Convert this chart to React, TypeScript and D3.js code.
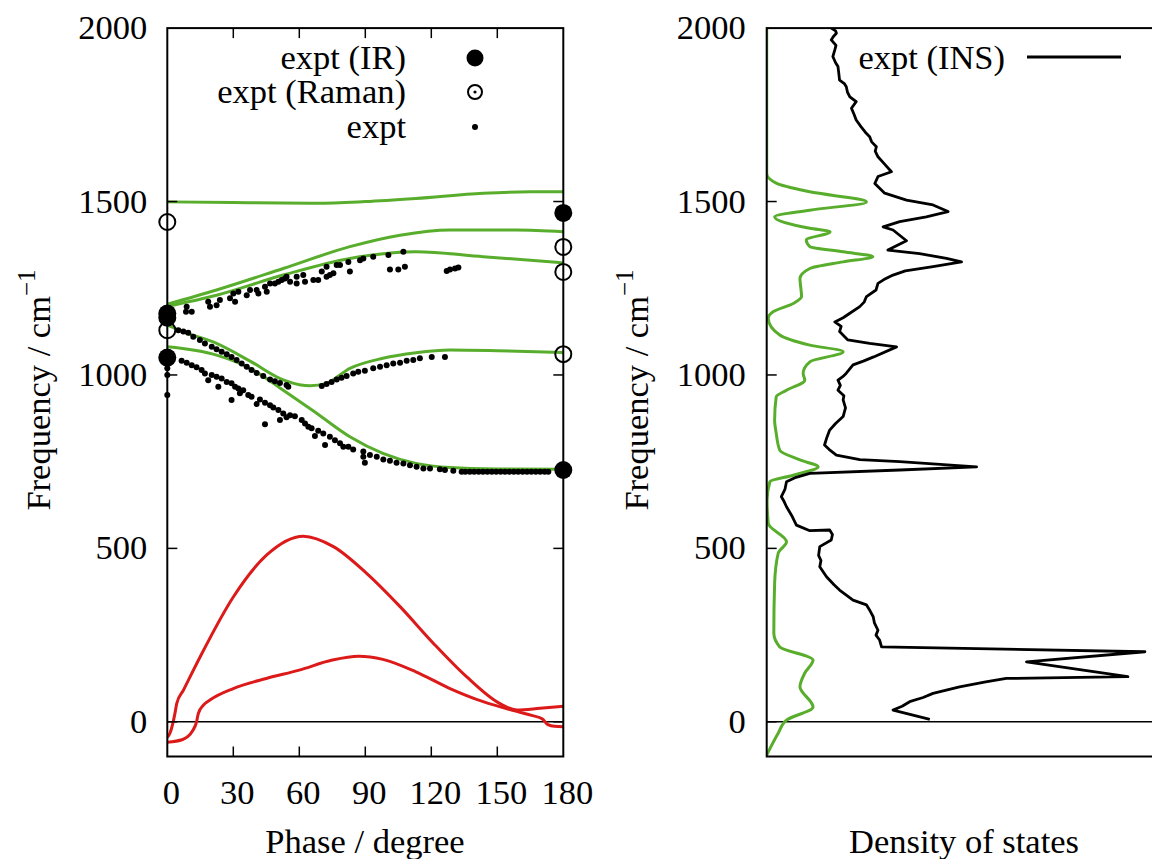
import React from "react";
import * as d3 from "d3";

// ---------- data ----------
const phaseTicks = [0, 30, 60, 90, 120, 150, 180];
const freqTicks = [0, 500, 1000, 1500, 2000];

// calculated dispersion bands [phase (deg), frequency (cm^-1)]
const bandRedLow: [number, number][] = [
  [0, -59], [7, -51], [11.5, -26], [13.3, 0], [14.1, 24], [16.4, 48], [19.4, 63], [30, 96], [45, 125],
  [60, 149], [75, 178], [87, 189], [98, 180], [113, 144], [128.5, 96], [143.6, 58], [158.8, 30],
  [166, 18], [170.5, 8], [173, -8], [176, -13], [180, -14],
];
const bandRedHigh: [number, number][] = [
  [0, -45], [1.2, -33], [3.5, 25], [4.3, 53], [7.3, 91], [14.9, 187], [30, 360], [45.2, 481],
  [61.8, 535], [75.5, 505], [90.6, 428], [105.8, 332], [121, 226], [136, 130], [151, 53],
  [158.8, 34], [169.4, 39], [180, 45],
];
const bandGreen1: [number, number][] = [
  [0, 1499], [30, 1497], [68, 1495], [90, 1500], [113, 1509], [143.6, 1524], [165, 1528], [180, 1528],
];
const bandGreen2: [number, number][] = [
  [0, 1204], [22.4, 1245], [52.7, 1307], [83, 1370], [105.8, 1403], [128.5, 1418], [158.8, 1418], [180, 1413],
];
const bandGreen3: [number, number][] = [
  [0, 1198], [22.4, 1230], [52.7, 1288], [83, 1336], [113, 1355], [143.6, 1341], [180, 1323],
];
const bandGreen4: [number, number][] = [
  [0, 1144], [7, 1125], [22.4, 1091], [37.6, 1040], [53, 985], [60, 972], [65, 969], [72, 975],
  [83, 1019], [98, 1048], [113, 1064], [128.5, 1072], [150, 1070], [180, 1065],
];
const bandGreen5: [number, number][] = [
  [0, 1081], [22.4, 1057], [37.6, 1019], [52.7, 956], [68, 889], [83, 822], [98, 774], [113, 745],
  [128.5, 733], [150, 729], [180, 728],
];

// experimental points
const exptIR: [number, number][] = [[0, 1177], [0, 1165], [0, 1050], [180, 1467], [180, 726]];
const exptRaman: [number, number][] = [[0, 1441], [0, 1129], [180, 1369], [180, 1297], [180, 1060]];
const exptDots: [number, number][] = [
  [0, 1019], [0, 1000], [0, 942],
  // upper branch
  [8.8, 1197], [11.1, 1182], [8.5, 1182], [18.6, 1211], [19.4, 1197], [22.4, 1201], [23.9, 1216],
  [28.5, 1221], [30, 1235], [30.8, 1211], [32.3, 1240], [36.1, 1230], [37.6, 1245], [40.6, 1245],
  [41.4, 1235], [44.4, 1254], [45.2, 1240], [46.7, 1264], [48.9, 1264], [50.5, 1269], [52, 1274],
  [53.5, 1278], [54.2, 1283], [55.8, 1269], [58.8, 1283], [58.8, 1264], [61.8, 1288], [62.6, 1269],
  [66.4, 1274], [68.6, 1274], [70.2, 1298], [72.4, 1312], [72.4, 1283], [73.9, 1288], [75.5, 1293],
  [77, 1317], [78.5, 1317], [82.3, 1326], [83, 1298], [87.6, 1331], [89.1, 1336], [93.6, 1341],
  [100.5, 1346], [107.3, 1355], [101.2, 1304], [105, 1304], [108, 1312], [127, 1300], [128.5, 1304],
  [130.8, 1307], [132.3, 1310],
  // middle branch
  [5, 1129], [7.3, 1125], [9.5, 1122], [11.8, 1110], [14.8, 1101], [17.1, 1091], [20.2, 1081],
  [22.4, 1074], [24.7, 1067], [27, 1060], [29.2, 1052], [31.5, 1043], [33.8, 1033], [36.1, 1024],
  [38.3, 1014], [40.6, 1006], [43.6, 997], [46.7, 987], [48.9, 982], [51.2, 977], [54.2, 971],
  [55, 966], [70.2, 968], [72.4, 974], [74.7, 980], [77, 987], [79.2, 992], [81.5, 997], [84.5, 1004],
  [86.8, 1009], [89.8, 1012], [93.6, 1019], [96.7, 1024], [99.7, 1028], [102.7, 1033], [105.8, 1035],
  [108.8, 1041], [111.8, 1043], [114.8, 1048], [120.2, 1052], [126.2, 1052],
  // lower branch
  [6.5, 1041], [8.8, 1035], [11.1, 1028], [13.3, 1022], [15.6, 1014], [17.1, 1004], [18.6, 985],
  [20.2, 1000], [22.4, 995], [23.2, 966], [24.7, 990], [27, 980], [29.2, 976], [29.2, 928], [30.8, 966],
  [32.3, 961], [33, 947], [34.5, 956], [36.8, 942], [38.3, 937], [40.6, 916], [42.1, 929], [44.4, 920],
  [44.4, 858], [46.7, 913], [48.2, 906], [50.5, 899], [51.2, 870], [52.7, 889], [54.2, 878], [55.8, 884],
  [58, 881], [61.1, 870], [62.6, 860], [64.1, 851], [65.6, 846], [67.1, 824], [68.6, 839], [70.9, 831],
  [71.7, 798], [73.9, 822], [76.2, 812], [78.5, 803], [80, 793], [82.3, 793], [84.5, 785], [89.1, 779],
  [89.1, 764], [89.8, 747], [92.1, 769], [95.2, 764], [98.2, 756], [101.2, 753], [104.2, 747],
  [107.3, 745], [110.3, 740], [113.3, 735], [116.4, 730], [119.4, 730], [123.9, 728], [126.2, 726],
  [130, 724], [133.8, 721], [135.5, 721], [137.5, 721], [139.5, 721], [141.5, 721], [143.5, 721],
  [145.5, 721], [147.5, 721], [149.5, 721], [151.5, 721], [153.5, 721], [155.5, 721], [157.5, 721],
  [159.5, 721], [161.5, 721], [163.5, 721], [165.5, 721], [167.5, 721], [169.5, 721], [171.5, 721],
  [173.2, 721],
];

// density of states [frequency, intensity (arb.)]
const dosCalc: [number, number][] = [
  [-96, 0], [-33, 2.9], [5, 5], [43, 11.7], [101, 8.4], [140, 9.6], [178, 11.7], [216, 3.3], [255, 1.8],
  [399, 2], [486, 2.9], [519, 5], [572, 0.4], [639, 0.1], [692, 0.8], [711, 6.7], [735, 13], [755, 8.4],
  [783, 3.3], [832, 2.4], [870, 2], [937, 2.4], [956, 5], [985, 9.6], [1005, 9.2], [1038, 10.9],
  [1067, 19.3], [1086, 10.9], [1115, 3.3], [1163, 0.4], [1182, 1.6], [1206, 6.7], [1226, 8.8],
  [1278, 8.4], [1307, 10.9], [1326, 19.3], [1341, 26.8], [1355, 19.3], [1370, 10.9], [1389, 10],
  [1413, 16], [1423, 10.9], [1456, 2], [1475, 10.9], [1499, 25.2], [1528, 10.9], [1553, 2.4],
  [1581, 0], [2000, 0],
];
const dosINS: [number, number][] = [
  [2000, 16.3], [1992, 17.4], [1985, 17.6], [1975, 16.8], [1966, 16.3], [1950, 17.5], [1937, 17.2],
  [1918, 16.7], [1900, 17.4], [1889, 18], [1870, 18.2], [1850, 18.4], [1840, 19.6], [1831, 20.1],
  [1815, 20.4], [1802, 21], [1788, 22.6], [1769, 21.4], [1750, 22.1], [1735, 22.6], [1716, 23.8],
  [1700, 24.9], [1687, 26], [1672, 26.5], [1658, 27.7], [1645, 27.4], [1629, 28.1], [1610, 29.6],
  [1586, 31.5], [1572, 28.1], [1552, 27.3], [1524, 29.8], [1504, 35.3],
  [1490, 42], [1471, 45.8], [1456, 40.3], [1442, 33.6], [1427, 29.4], [1418, 31.9], [1387, 35.3],
  [1360, 30.6], [1350, 38.6], [1336, 45.4], [1326, 49.2], [1312, 42], [1300, 35], [1288, 31.9],
  [1275, 29.6], [1264, 28.1], [1245, 27.6], [1226, 25.2], [1210, 24.6], [1197, 23.5], [1178, 21],
  [1165, 19.3], [1153, 17.2], [1140, 18.8], [1125, 18.4], [1101, 20.5], [1091, 26],
  [1081, 32.8], [1052, 27], [1040, 24.4], [1029, 21.8], [1005, 20.1], [995, 19.2], [985, 18],
  [970, 18.6], [956, 18], [940, 19.5], [928, 19.3], [905, 19.9], [880, 19.3], [860, 17.4],
  [841, 15.9], [820, 15.2], [798, 14.6], [785, 15.8], [769, 17.6], [756, 23.5], [750, 33.6], [735, 53],
  [726, 33.6], [716, 10.9], [705, 7.4], [692, 5], [670, 4.6], [649, 3.7], [635, 4.4], [620, 5],
  [595, 6.3], [567, 7.5], [551, 10.9], [553, 15.9], [540, 16.6], [524, 16.3], [505, 13.4],
  [480, 13.1], [465, 13.7], [447, 13.4], [418, 15.1], [395, 17], [380, 18.4], [351, 21.8],
  [337, 25.2], [320, 26.1], [303, 26.9], [285, 27.2], [264, 28.1], [250, 27.6], [236, 28.5],
  [216, 29], [202, 95.5], [173, 65.6], [130, 91.2], [125, 60.5], [115, 55.3], [101, 48.7], [82, 42],
  [70, 39.5], [58, 36.1], [45, 34.2], [34, 31.9], [7, 41.2],
];

// ---------- styling ----------
const GREEN = "#58ae2c";
const RED = "#dc1a1a";
const FONT = "'Liberation Serif', 'Times New Roman', serif";
const FS = 34.5;

const xL = d3.scaleLinear().domain([0, 180]).range([167.3, 563.3]);
const yS = d3.scaleLinear().domain([-100, 2000]).range([756.5, 28.1]);
const xR = d3.scaleLinear().domain([0, 100]).range([766.7, 1162.7]);

const bandLine = d3
  .line<[number, number]>()
  .x((d) => xL(d[0]))
  .y((d) => yS(d[1]))
  .curve(d3.curveMonotoneX);

const dosLineSmooth = d3
  .line<[number, number]>()
  .x((d) => xR(d[1]))
  .y((d) => yS(d[0]))
  .curve(d3.curveMonotoneY);

const dosLineRaw = d3
  .line<[number, number]>()
  .x((d) => xR(d[1]))
  .y((d) => yS(d[0]));

function Frame({ x0, x1, xTicks }: { x0: number; x1: number; xTicks: boolean }) {
  const top = yS(2000);
  const bot = yS(-100);
  const tl = 10;
  return (
    <g stroke="#000" strokeWidth={1.5} fill="none">
      {freqTicks
        .filter((v) => v !== 2000)
        .map((v) => (
          <g key={"y" + v}>
            <line x1={x0} x2={x0 + tl} y1={yS(v)} y2={yS(v)} />
            <line x1={x1} x2={x1 - tl} y1={yS(v)} y2={yS(v)} />
          </g>
        ))}
      {xTicks &&
        phaseTicks
          .filter((v) => v !== 0 && v !== 180)
          .map((v) => (
            <g key={"x" + v}>
              <line x1={xL(v)} x2={xL(v)} y1={bot} y2={bot - tl} />
              <line x1={xL(v)} x2={xL(v)} y1={top} y2={top + tl} />
            </g>
          ))}
      <rect x={x0} y={top} width={x1 - x0} height={bot - top} strokeWidth={2} />
    </g>
  );
}

export default function App() {
  const top = yS(2000);
  const bot = yS(-100);
  const greens = [bandGreen1, bandGreen2, bandGreen3, bandGreen4, bandGreen5];
  const reds = [bandRedLow, bandRedHigh];
  const dosSorted = [...dosCalc].sort((a, b) => a[0] - b[0]);
  return (
    <svg
      width={1152}
      height={859}
      style={{ position: "absolute", left: 0, top: 0, background: "#fff" }}
      fontFamily={FONT}
    >
      <rect x={0} y={0} width={1152} height={859} fill="#fff" />
      <defs>
        <clipPath id="clipL">
          <rect x={xL(0)} y={top} width={xL(180) - xL(0)} height={bot - top} />
        </clipPath>
        <clipPath id="clipR">
          <rect x={xR(0)} y={top} width={xR(100) - xR(0)} height={bot - top} />
        </clipPath>
      </defs>

      {/* ---------- left panel ---------- */}
      <line x1={xL(0)} x2={xL(180)} y1={yS(0)} y2={yS(0)} stroke="#000" strokeWidth={1.5} />
      <g clipPath="url(#clipL)" fill="none" strokeWidth={3} strokeLinejoin="round">
        {greens.map((b, i) => (
          <path key={"g" + i} d={bandLine(b) || ""} stroke={GREEN} />
        ))}
        {reds.map((b, i) => (
          <path key={"r" + i} d={bandLine(b) || ""} stroke={RED} />
        ))}
      </g>
      <g>
        {exptDots.map((d, i) => (
          <circle key={"d" + i} cx={xL(d[0])} cy={yS(d[1])} r={3} fill="#000" />
        ))}
        {exptRaman.map((d, i) => (
          <circle key={"ra" + i} cx={xL(d[0])} cy={yS(d[1])} r={8} fill="none" stroke="#000" strokeWidth={2} />
        ))}
        {exptIR.map((d, i) => (
          <circle key={"ir" + i} cx={xL(d[0])} cy={yS(d[1])} r={9} fill="#000" />
        ))}
      </g>
      <Frame x0={xL(0)} x1={xL(180)} xTicks={true} />

      {/* left legend */}
      <g fontSize={FS} textAnchor="end" fill="#000">
        <text x={406} y={69}>expt (IR)</text>
        <text x={406} y={103}>expt (Raman)</text>
        <text x={406} y={138}>expt</text>
      </g>
      <circle cx={475} cy={58} r={8.5} fill="#000" />
      <circle cx={475} cy={92} r={7} fill="none" stroke="#000" strokeWidth={2} />
      <circle cx={475} cy={92} r={1.6} fill="#000" />
      <circle cx={475} cy={127} r={3} fill="#000" />

      {/* left axes labels */}
      <g fontSize={FS} fill="#000">
        {freqTicks.map((v) => (
          <text key={"yl" + v} x={xL(0) - 20} y={yS(v) + 11} textAnchor="end">
            {v}
          </text>
        ))}
        {phaseTicks.map((v) => (
          <text key={"xl" + v} x={xL(v) + 4} y={804} textAnchor="middle">
            {v}
          </text>
        ))}
        <text x={365} y={853} textAnchor="middle">
          Phase / degree
        </text>
        <text transform="translate(50,390) rotate(-90)" textAnchor="middle">
          Frequency / cm
          <tspan fontSize={25} dy={-15}>
            −1
          </tspan>
        </text>
      </g>

      {/* ---------- right panel ---------- */}
      <line x1={xR(0)} x2={xR(100)} y1={yS(0)} y2={yS(0)} stroke="#000" strokeWidth={1.5} />
      <g clipPath="url(#clipR)" fill="none" strokeLinejoin="round">
        <path d={dosLineSmooth(dosSorted) || ""} stroke={GREEN} strokeWidth={3} />
        <path d={dosLineRaw(dosINS) || ""} stroke="#000" strokeWidth={2.8} />
      </g>
      <Frame x0={xR(0)} x1={xR(100)} xTicks={false} />

      {/* right legend */}
      <text x={1005} y={69} fontSize={FS} textAnchor="end" fill="#000">
        expt (INS)
      </text>
      <line x1={1027} x2={1121} y1={57} y2={57} stroke="#000" strokeWidth={3} />

      <g fontSize={FS} fill="#000">
        {freqTicks.map((v) => (
          <text key={"yr" + v} x={xR(0) - 21} y={yS(v) + 11} textAnchor="end">
            {v}
          </text>
        ))}
        <text x={964} y={853} textAnchor="middle">
          Density of states
        </text>
        <text transform="translate(648,390) rotate(-90)" textAnchor="middle">
          Frequency / cm
          <tspan fontSize={25} dy={-15}>
            −1
          </tspan>
        </text>
      </g>
    </svg>
  );
}
